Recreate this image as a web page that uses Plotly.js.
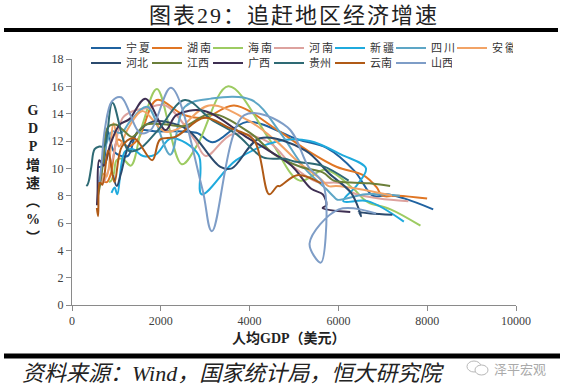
<!DOCTYPE html>
<html>
<head>
<meta charset="utf-8">
<script src="https://cdn.plot.ly/plotly-3.0.1.min.js"></script>
<style>
html,body{margin:0;padding:0;background:#fff;}
#chart{width:563px;height:388px;}
#chart .gtitle{letter-spacing:2px;}
#chart .legendtext{letter-spacing:2px;}
</style>
</head>
<body>
<div id="chart"></div>
<script>
// Province names (legend order)
const provinces = ['宁夏','湖南','海南','河南','新疆','四川','安徽','河北','江西','广西','贵州','云南','山西'];

// GDP per capita (USD) and GDP growth (%) per province, yearly points
const gdppc_ningxia = [584,645,701,808,952,1255,1486,1928,2803,3170,3944,5093,5734,6365,6770,6998,7071,7481,8135];
const growth_ningxia = [10.1,10.1,10.2,12.7,11.2,10.9,12.7,12.7,12.6,11.9,13.4,12.1,11.5,9.8,8.0,8.0,8.1,7.8,7.0];

const gdppc_hunan = [681,739,793,876,1041,1266,1499,1907,2521,2991,3651,4625,5306,5968,6559,6863,6985,7342,7998];
const growth_hunan = [9.0,9.0,9.0,9.6,12.1,11.6,12.2,15.0,13.9,13.7,14.6,12.8,11.3,10.1,9.5,8.6,8.0,8.0,7.8];

const gdppc_hainan = [833,883,942,1004,1141,1327,1588,1915,2471,2819,3520,4473,5131,5705,6339,6552,6679,7175,7848];
const growth_hainan = [9.0,9.1,9.6,10.6,10.7,10.2,13.2,15.8,10.3,11.7,16.0,12.0,9.1,9.9,8.5,7.8,7.5,7.0,5.8];

const gdppc_henan = [658,715,777,914,1144,1385,1670,2107,2760,3016,3611,4437,4992,5527,6038,6280,6412,6915,7576];
const growth_henan = [9.5,9.0,9.5,10.7,13.7,14.2,14.4,14.6,12.1,10.9,12.5,11.9,10.1,9.0,8.9,8.3,8.1,7.8,7.6];

const gdppc_xinjiang = [890,960,1021,1187,1369,1600,1882,2237,2848,2920,3698,4657,5356,6067,6620,6426,6109,6658,7474];
const growth_xinjiang = [8.2,8.6,8.1,11.2,11.4,10.9,11.0,12.2,11.0,8.1,10.6,12.0,12.0,11.0,10.0,8.8,7.6,7.6,6.1];

const gdppc_sichuan = [578,634,696,775,907,1106,1323,1696,2213,2539,3129,4045,4692,5243,5721,5903,5978,6615,7384];
const growth_sichuan = [9.0,9.2,10.6,11.8,12.7,12.6,13.5,14.5,11.0,14.5,15.1,15.0,12.6,10.0,8.5,7.9,7.7,8.1,8.0];

const gdppc_anhui = [588,631,703,780,938,1059,1262,1585,2084,2402,3085,3972,4563,5119,5607,5778,5958,6430,7207];
const growth_anhui = [8.3,8.9,9.6,9.4,13.3,11.6,12.9,14.2,12.7,12.9,14.6,13.5,12.1,10.4,9.2,8.7,8.7,8.5,8.0];

const gdppc_hebei = [925,1010,1101,1270,1560,1805,2128,2615,3344,3599,4235,5258,5798,6286,6512,6461,6456,6724,7216];
const growth_hebei = [9.5,8.7,9.6,11.6,12.9,13.4,13.4,12.8,10.1,10.0,12.2,11.3,9.6,8.2,6.5,6.8,6.8,6.7,6.6];

const gdppc_jiangxi = [586,631,704,807,978,1153,1355,1662,2127,2538,3139,4048,4564,5158,5647,5895,6084,6694,7165];
const growth_jiangxi = [8.0,8.8,10.5,13.0,13.2,12.8,12.3,13.2,13.2,13.1,14.0,12.5,11.0,10.1,9.7,9.1,9.0,8.9,8.7];

const gdppc_guangxi = [562,575,616,721,869,1073,1292,1652,2108,2349,2987,3920,4430,4941,5389,5649,5727,5645,6267];
const growth_guangxi = [7.3,8.2,10.6,10.2,11.8,13.2,13.6,15.1,12.8,13.9,14.2,12.3,11.3,10.2,8.5,8.1,7.3,7.1,6.8];

const gdppc_guizhou = [322,350,381,435,509,617,726,910,1270,1509,1938,2541,3124,3703,4306,4791,5007,5623,6230];
const growth_guizhou = [8.7,8.8,9.1,10.1,11.4,11.6,11.6,14.8,11.3,11.4,12.8,15.0,13.6,12.5,10.8,10.7,10.5,10.2,9.1];

const gdppc_yunnan = [560,588,625,684,813,957,1124,1396,1809,1982,2327,2982,3517,4091,4440,4624,4683,5070,5610];
const growth_yunnan = [7.1,6.5,9.0,8.8,11.3,9.0,11.6,12.2,10.6,12.1,12.3,13.7,13.0,12.1,8.1,8.7,8.7,9.5,8.9];

const gdppc_shanxi = [620,659,742,898,1105,1530,1772,2230,2935,3151,3882,4854,5329,5652,5711,5605,5351,6008,6847];
const growth_shanxi = [9.0,10.1,12.9,14.9,15.2,12.6,12.8,15.9,8.5,5.4,13.9,13.0,10.1,8.9,4.9,3.1,4.5,7.0,6.7];

const xTicks = [0,2000,4000,6000,8000,10000];
const yTicks = [0,2,4,6,8,10,12,14,16,18];

const seriesX = [gdppc_ningxia,gdppc_hunan,gdppc_hainan,gdppc_henan,gdppc_xinjiang,gdppc_sichuan,gdppc_anhui,
                 gdppc_hebei,gdppc_jiangxi,gdppc_guangxi,gdppc_guizhou,gdppc_yunnan,gdppc_shanxi];
const seriesY = [growth_ningxia,growth_hunan,growth_hainan,growth_henan,growth_xinjiang,growth_sichuan,growth_anhui,
                 growth_hebei,growth_jiangxi,growth_guangxi,growth_guizhou,growth_yunnan,growth_shanxi];
const colors = ['#1F62A0','#E07624','#9DCB62','#DDA29E','#1FAADD','#5DA6C6','#F2A366',
                '#2B4A6E','#6B7F3A','#3E2F52','#2E6A74','#B05A16','#7E9DC7'];

const cjk = '"Liberation Serif", "Noto Sans CJK SC", serif';
const traces = provinces.map((name, i) => ({
  type: 'scatter', mode: 'lines', name: name,
  x: seriesX[i], y: seriesY[i],
  line: {color: colors[i], width: 2, shape: 'spline', smoothing: 1},
  legend: i < 7 ? 'legend' : 'legend2',
  hoverinfo: 'skip'
}));

// pixel helpers for paper coordinates (plot area: x 72..516, y 59..305)
const L = 72, R = 516, T = 59, B = 305;
const px = v => (v - L) / (R - L);
const py = v => (B - v) / (B - T);

const legendCommon = {
  orientation: 'h', xanchor: 'left', yanchor: 'middle',
  font: {family: '"Noto Sans CJK SC", sans-serif', size: 11, color: '#333'},
  entrywidth: 16, entrywidthmode: 'pixels',
  bgcolor: 'rgba(0,0,0,0)', borderwidth: 0, tracegroupgap: 0
};

const layout = {
  width: 563, height: 388,
  margin: {l: L, r: 563 - R, t: T, b: 388 - B, autoexpand: false},
  paper_bgcolor: '#fff', plot_bgcolor: '#fff',
  showlegend: true,
  title: {text: '图表29：追赶地区经济增速', x: 0.5, xanchor: 'center', xref: 'paper',
          y: 1 - 15/388, yanchor: 'middle', yref: 'container',
          font: {family: cjk, size: 22, color: '#222'}},
  legend: Object.assign({}, legendCommon, {x: px(86), y: py(48)}),
  legend2: Object.assign({}, legendCommon, {x: px(86), y: py(63)}),
  xaxis: {range: [0, 10000], tickvals: xTicks, ticktext: xTicks.map(String),
          showgrid: false, zeroline: false, showline: true, linecolor: '#8a8a8a', linewidth: 1,
          ticks: 'outside', ticklen: 5, tickcolor: '#8a8a8a',
          tickfont: {family: '"Liberation Serif", serif', size: 12, color: '#404040'}},
  yaxis: {range: [0, 18], tickvals: yTicks, ticktext: yTicks.map(String),
          showgrid: false, zeroline: false, showline: true, linecolor: '#8a8a8a', linewidth: 1,
          ticks: 'outside', ticklen: 5, tickcolor: '#8a8a8a',
          tickfont: {family: '"Liberation Serif", serif', size: 12, color: '#404040'}},
  shapes: [
    {type: 'line', xref: 'paper', yref: 'paper', x0: px(4), x1: px(558), y0: py(30), y1: py(30),
     line: {color: '#000', width: 4}},
    {type: 'line', xref: 'paper', yref: 'paper', x0: px(4), x1: px(560), y0: py(356), y1: py(356),
     line: {color: '#000', width: 5}},
    {type: 'circle', xref: 'paper', yref: 'paper', x0: px(467), x1: px(481), y0: py(361), y1: py(372),
     line: {color: '#b8b8b8', width: 1}},
    {type: 'circle', xref: 'paper', yref: 'paper', x0: px(475), x1: px(488), y0: py(365), y1: py(375),
     line: {color: '#b8b8b8', width: 1}, fillcolor: '#fff'}
  ],
  annotations: [
    {text: '<b>人均GDP（美元）</b>', xref: 'paper', yref: 'paper', x: px(289), y: py(338),
     xanchor: 'center', yanchor: 'middle', showarrow: false,
     font: {family: cjk, size: 14, color: '#222'}},
    {text: '<b>G<br>D<br>P<br>增<br>速<br>︵<br>%<br>︶</b>', xref: 'paper', yref: 'paper', x: px(33), y: py(174),
     xanchor: 'center', yanchor: 'middle', showarrow: false, align: 'center',
     font: {family: cjk, size: 14, color: '#222'}},
    {text: '<i>资料来源：Wind，国家统计局，恒大研究院</i>', xref: 'paper', yref: 'paper', x: px(20), y: py(373),
     xanchor: 'left', yanchor: 'middle', showarrow: false,
     font: {family: cjk, size: 22, color: '#222'}},
    {text: '泽平宏观', xref: 'paper', yref: 'paper', x: px(492), y: py(368),
     xanchor: 'left', yanchor: 'middle', showarrow: false,
     font: {family: '"Noto Sans CJK SC", sans-serif', size: 13, color: '#aaaaaa'}}
  ]
};

Plotly.newPlot('chart', traces, layout, {staticPlot: true, displayModeBar: false});
</script>
</body>
</html>
